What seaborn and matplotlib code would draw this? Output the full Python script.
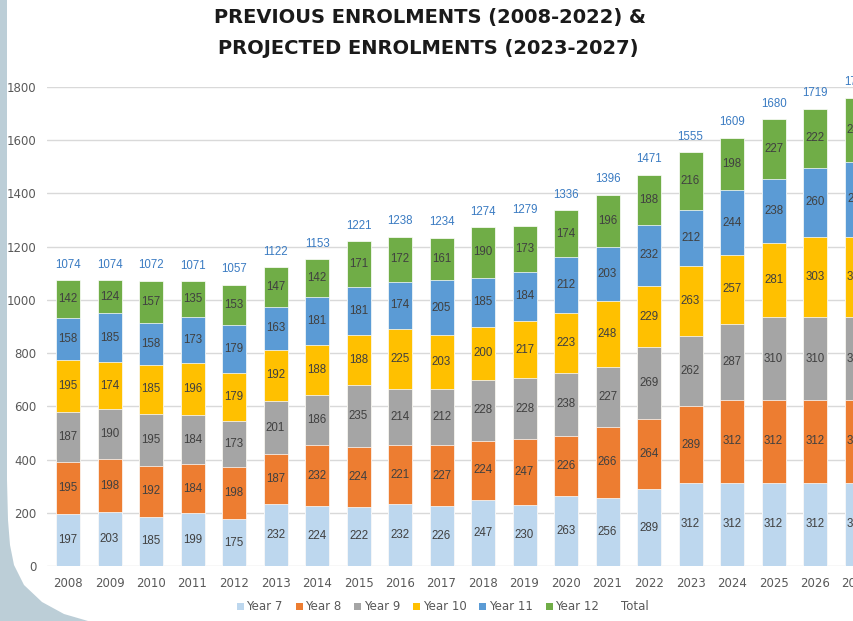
import numpy as np
import pandas as pd
import seaborn as sns
import matplotlib.pyplot as plt
from matplotlib.patches import Patch, Polygon

# ---------------- data ----------------
years = [str(y) for y in range(2008, 2028)]
year7 = [197, 203, 185, 199, 175, 232, 224, 222, 232, 226, 247, 230, 263, 256, 289, 312, 312, 312, 312, 312]
year8 = [195, 198, 192, 184, 198, 187, 232, 224, 221, 227, 224, 247, 226, 266, 264, 289, 312, 312, 312, 312]
year9 = [187, 190, 195, 184, 173, 201, 186, 235, 214, 212, 228, 228, 238, 227, 269, 262, 287, 310, 310, 310]
year10 = [195, 174, 185, 196, 179, 192, 188, 188, 225, 203, 200, 217, 223, 248, 229, 263, 257, 281, 303, 303]
year11 = [158, 185, 158, 173, 179, 163, 181, 181, 174, 205, 185, 184, 212, 203, 232, 212, 244, 238, 260, 281]
year12 = [142, 124, 157, 135, 153, 147, 142, 171, 172, 161, 190, 173, 174, 196, 188, 216, 198, 227, 222, 242]
totals = [1074, 1074, 1072, 1071, 1057, 1122, 1153, 1221, 1238, 1234, 1274, 1279, 1336, 1396, 1471, 1555, 1609, 1680, 1719, 1760]
series_names = ["Year 7", "Year 8", "Year 9", "Year 10", "Year 11", "Year 12"]
colors = ["#BDD7EE", "#ED7D31", "#A5A5A5", "#FFC000", "#5B9BD5", "#70AD47"]
title_lines = ["PREVIOUS ENROLMENTS (2008-2022) &", "PROJECTED ENROLMENTS (2023-2027)"]

layers = [year7, year8, year9, year10, year11, year12]

sns.set_theme(style="white")
plt.rcParams['font.family'] = ['DejaVu Sans']

W, H = 854, 621
fig = plt.figure(figsize=(W / 100, H / 100), dpi=100)
fig.patch.set_facecolor("white")

# decorative background on the left
pts = [(0, 0), (7, 0), (7, 480), (8, 520), (10, 545), (14, 565), (24, 585),
       (42, 602), (64, 614), (88, 621), (0, 621)]
poly = Polygon([(x / W, 1 - y / H) for x, y in pts], closed=True,
               transform=fig.transFigure, facecolor="#BCCED7", edgecolor="none", zorder=-5)
fig.patches.append(poly)

ax = fig.add_axes([47.3 / W, 55 / H, 830 / W, 479 / H])
ax.set_facecolor("none")

df = pd.DataFrame({"year": years})
for name, vals in zip(series_names, layers):
    df[name] = vals
cum = df[series_names].cumsum(axis=1)

for i in reversed(range(len(series_names))):
    sns.barplot(x=df["year"], y=cum[series_names[i]], order=years, color=colors[i],
                saturation=1, width=0.58, edgecolor="white", linewidth=0.5, ax=ax)

ax.set_xlim(-0.5, 19.5)
ax.set_ylim(0, 1800)
ax.set_yticks(range(0, 1801, 200))
ax.set_axisbelow(True)
ax.yaxis.grid(True, color="#D9D9D9", linewidth=1.0)
ax.xaxis.grid(False)
for s in ax.spines.values():
    s.set_visible(False)
ax.set_xlabel("")
ax.set_ylabel("")
ax.tick_params(axis="both", length=0, labelsize=8.5, colors="#595959")
ax.tick_params(axis="x", pad=8)
ax.tick_params(axis="y", pad=8)

# segment labels
for i, name in enumerate(series_names):
    for j in range(len(years)):
        v = df[name][j]
        ymid = cum[name][j] - v / 2
        ax.text(j, ymid, str(v), ha="center", va="center", fontsize=8.3,
                color="#404040", family="Liberation Sans", clip_on=False)

# totals
for j, t in enumerate(totals):
    ax.annotate(str(t), xy=(j, cum[series_names[-1]][j]), xytext=(0, 11),
                textcoords="offset points", ha="center", va="center",
                fontsize=8.3, color="#3A7BC2", family="Liberation Sans",
                annotation_clip=False)

# title
fig.text(430 / W, 1 - 18 / H, title_lines[0], ha="center", va="center",
         fontsize=14, fontweight="bold", color="#1A1A1A", family="DejaVu Sans")
fig.text(428 / W, 1 - 48 / H, title_lines[1], ha="center", va="center",
         fontsize=14, fontweight="bold", color="#1A1A1A", family="DejaVu Sans")

# legend
handles = [Patch(facecolor=c, edgecolor="none") for c in colors]
handles.append(Patch(facecolor="none", edgecolor="none"))
labels = series_names + ["Total"]
leg = fig.legend(handles, labels, loc="center", bbox_to_anchor=(443 / W, 1 - 607 / H),
                 ncol=7, frameon=False, fontsize=8.5, handlelength=0.6, handleheight=0.6,
                 handletextpad=0.2, columnspacing=1.1)
for t in leg.get_texts():
    t.set_color("#595959")

fig.savefig("out.png", dpi=100, facecolor="white")
